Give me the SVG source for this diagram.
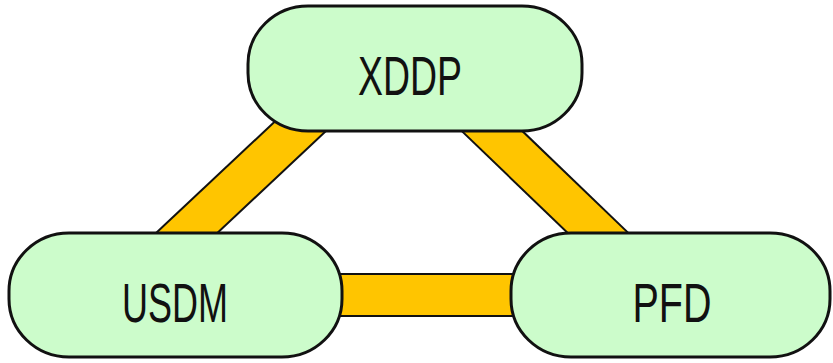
<svg xmlns="http://www.w3.org/2000/svg" width="833" height="363" viewBox="0 0 833 363">
  <style>
    .band-edge { stroke: #111; stroke-width: 44; stroke-linecap: butt; fill: none; }
    .band-fill { stroke: #FFC500; stroke-width: 40; stroke-linecap: butt; fill: none; }
    .node rect { fill: #CCFCCB; stroke: #111; stroke-width: 3; }
    .node text { font-family: "Liberation Sans", Arial, sans-serif; font-size: 56px; fill: #111; text-anchor: middle; }
  </style>
  <rect width="833" height="363" fill="#FFFFFF"/>

  <!-- thick links between the three methods -->
  <g id="connectors">
    <line class="band-edge" x1="175" y1="295" x2="415" y2="295"/>
    <line class="band-edge" x1="415" y1="295" x2="671" y2="295"/>
    <line class="band-edge" x1="160" y1="258" x2="322" y2="106"/>
    <line class="band-edge" x1="466" y1="106" x2="622" y2="256"/>
    <line class="band-fill" x1="175" y1="295" x2="415" y2="295"/>
    <line class="band-fill" x1="415" y1="295" x2="671" y2="295"/>
    <line class="band-fill" x1="160" y1="258" x2="322" y2="106"/>
    <line class="band-fill" x1="466" y1="106" x2="622" y2="256"/>
  </g>

  <g id="xddp" class="node">
    <rect x="248" y="6" width="334" height="125" rx="60" ry="58"/>
    <text x="410" y="95" textLength="104" lengthAdjust="spacingAndGlyphs">XDDP</text>
  </g>

  <g id="usdm" class="node">
    <rect x="9" y="233" width="333" height="124" rx="60" ry="58"/>
    <text x="175" y="322" textLength="106" lengthAdjust="spacingAndGlyphs">USDM</text>
  </g>

  <g id="pfd" class="node">
    <rect x="511" y="233" width="319" height="124" rx="60" ry="58"/>
    <text x="672" y="322" textLength="79" lengthAdjust="spacingAndGlyphs">PFD</text>
  </g>
</svg>
